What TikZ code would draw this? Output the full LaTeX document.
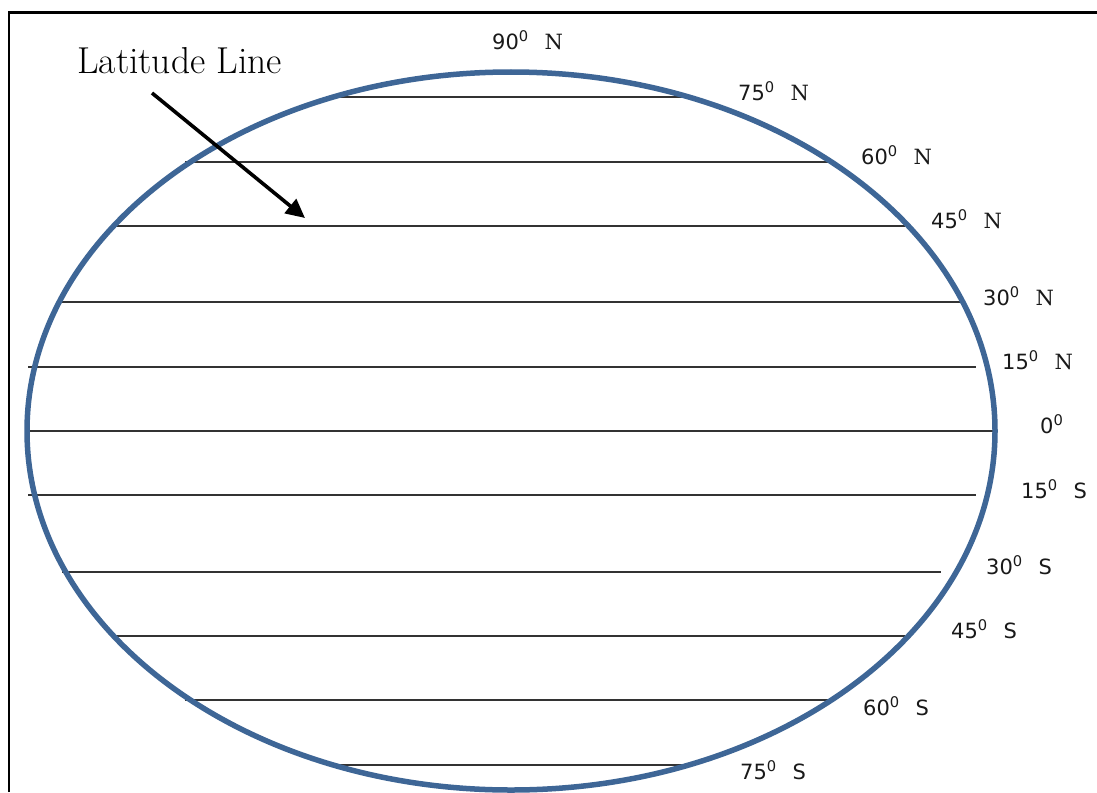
\documentclass[tikz,border=0pt]{standalone}
\usepackage{fontspec}
\usetikzlibrary{arrows.meta}
\newfontfamily\lblsans{DejaVu Sans}
\newfontfamily\lblserif{DejaVu Serif}
\definecolor{globeblue}{HTML}{3E6696}
\definecolor{latgray}{HTML}{333333}
\newcommand{\degN}[1]{{\lblsans #1\textsuperscript{0}}\hspace{0.75em}{\lblserif N}}
\newcommand{\degS}[1]{{\lblsans #1\textsuperscript{0}\hspace{0.75em}S}}
\tikzset{
  latline/.style={draw=latgray, line width=1.6pt},
  globe/.style={draw=globeblue, line width=5.5pt},
  latlabel/.style={anchor=base west, inner sep=0pt, font=\fontsize{21}{25}\selectfont, text=black!90},
  frame/.style={draw=black, line width=2.2pt},
  pointer/.style={draw=black, line width=3.6pt, -{Triangle[length=19pt,width=18pt]}},
}
\begin{document}
\begin{tikzpicture}[x=1pt,y=-1pt]
\useasboundingbox (0,0) rectangle (1097,792);
% frame (top and left edges)
\draw[frame] (9,792) -- (9,12.5) -- (1097,12.5);
% latitude lines
\draw[latline] (330,97) -- (695,97);
\draw[latline] (185,162) -- (835,162);
\draw[latline] (115,226) -- (905,226);
\draw[latline] (62,302) -- (960,302);
\draw[latline] (28,367) -- (976,367);
\draw[latline] (27,431) -- (994,431);
\draw[latline] (28,495) -- (976,495);
\draw[latline] (62,572) -- (941,572);
\draw[latline] (115,636) -- (905,636);
\draw[latline] (185,700) -- (835,700);
\draw[latline] (328,765) -- (695,765);
% globe outline
\draw[globe] (511,431) ellipse [x radius=484, y radius=359];
% labels
\node[latlabel] (n90) at (492,49) {\degN{90}};
\node[latlabel] (n75) at (738,100) {\degN{75}};
\node[latlabel] (n60) at (861,164) {\degN{60}};
\node[latlabel] (n45) at (931,228) {\degN{45}};
\node[latlabel] (n30) at (983,305) {\degN{30}};
\node[latlabel] (n15) at (1002,369) {\degN{15}};
\node[latlabel] (eq) at (1040,433) {{\lblsans 0\textsuperscript{0}}};
\node[latlabel] (s15) at (1021,498) {\degS{15}};
\node[latlabel] (s30) at (986,574) {\degS{30}};
\node[latlabel] (s45) at (951,638) {\degS{45}};
\node[latlabel] (s60) at (863,715) {\degS{60}};
\node[latlabel] (s75) at (740,779) {\degS{75}};
% pointer label
\node[anchor=base west, inner sep=0pt, font=\fontsize{37.5}{44}\selectfont] (latname) at (77,74) {Latitude Line};
\coordinate (ptrstart) at (152,93);
\coordinate (ptrend) at (305,218);
\draw[pointer] (ptrstart) -- (ptrend);
\end{tikzpicture}
\end{document}
